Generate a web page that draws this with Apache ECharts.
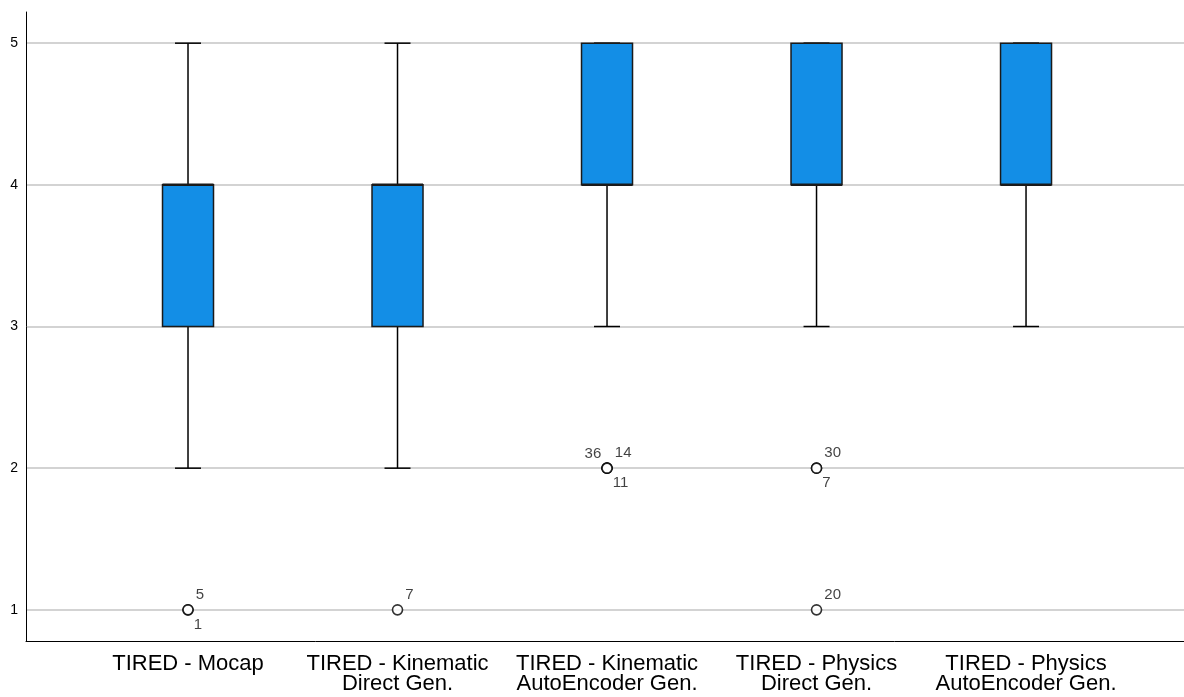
<!DOCTYPE html>
<html>
<head>
<meta charset="utf-8">
<script src="https://cdn.jsdelivr.net/npm/echarts@6/dist/echarts.min.js"></script>
<style>html,body{margin:0;padding:0;background:#fff;}#c{width:1184px;height:697px;}</style>
</head>
<body>
<div id="c"></div>
<script>
const categories = ['TIRED - Mocap', 'TIRED - Kinematic\nDirect Gen.', 'TIRED - Kinematic\nAutoEncoder Gen.', 'TIRED - Physics\nDirect Gen.', 'TIRED - Physics\nAutoEncoder Gen.'];
// [min, Q1, median, Q3, max]
const boxMin    = [2, 2, 3, 3, 3];
const boxQ1     = [3, 3, 4, 4, 4];
const boxMedian = [4, 4, 4, 4, 4];
const boxQ3     = [4, 4, 5, 5, 5];
const boxMax    = [5, 5, 5, 5, 5];
// outliers: category index (0-based), value, case ids
const outlierCat   = [0, 1, 2, 3, 3];
const outlierValue = [1, 1, 2, 2, 1];
const outlierIds   = [['5', '1'], ['7'], ['14', '11', '36'], ['30', '7'], ['20']];
const yTicks = [1, 2, 3, 4, 5];

const chart = echarts.init(document.getElementById('c'), null, {renderer: 'canvas'});

const boxData = categories.map((c, i) => [i + 1, boxMin[i], boxQ1[i], boxMedian[i], boxQ3[i], boxMax[i]]);

const labelSlots = [
  {position: 'right', offset: [-3, -15], align: 'left'},
  {position: 'right', offset: [-5, 15], align: 'left'},
  {position: 'left', offset: [5, -14], align: 'right'}
];
const scatterData = [];
outlierCat.forEach((ci, k) => {
  outlierIds[k].forEach((id, j) => {
    const s = labelSlots[j];
    scatterData.push({
      value: [ci + 1, outlierValue[k]],
      label: {show: true, formatter: id, position: s.position, offset: s.offset, align: s.align,
              color: '#111', fontSize: 15, fontFamily: 'Liberation Sans, Arial, sans-serif'}
    });
  });
});

const boxW = 51, capW = 26;
chart.setOption({
  animation: false,
  backgroundColor: '#fff',
  grid: {left: 26, right: 0, top: 12, bottom: 56, containLabel: false},
  xAxis: {
    type: 'value', min: 0.2267, max: 5.754,
    axisLine: {show: true, lineStyle: {color: '#000', width: 1}},
    axisTick: {show: false},
    splitLine: {show: false},
    axisLabel: {
      customValues: [1, 2, 3, 4, 5],
      formatter: v => categories[Math.round(v) - 1],
      color: '#000', fontSize: 22, lineHeight: 20, margin: 13,
      fontFamily: 'Liberation Sans, Arial, sans-serif', align: 'center'
    }
  },
  yAxis: {
    type: 'value', min: 0.78, max: 5.22,
    axisLine: {show: true, onZero: false, lineStyle: {color: '#000', width: 1}},
    axisTick: {show: false},
    splitLine: {show: false},
    axisLabel: {
      customValues: yTicks,
      color: '#000', fontSize: 14, margin: 8,
      fontFamily: 'Liberation Sans, Arial, sans-serif'
    }
  },
  series: [
    {
      type: 'scatter',
      data: [],
      silent: true,
      markLine: {
        silent: true, symbol: 'none', z: 0,
        label: {show: false},
        lineStyle: {color: '#c4c4c4', width: 1.5, type: 'solid'},
        data: yTicks.map(v => ({yAxis: v}))
      }
    },
    {
      type: 'custom',
      z: 3,
      data: boxData,
      renderItem: function (params, api) {
        const x = api.value(0);
        const pMin = api.coord([x, api.value(1)]);
        const pQ1 = api.coord([x, api.value(2)]);
        const pMed = api.coord([x, api.value(3)]);
        const pQ3 = api.coord([x, api.value(4)]);
        const pMax = api.coord([x, api.value(5)]);
        const cx = pMin[0];
        const ls = {stroke: '#000', lineWidth: 1.5};
        return {
          type: 'group',
          children: [
            {type: 'line', shape: {x1: cx, y1: pQ3[1], x2: cx, y2: pMax[1]}, style: ls},
            {type: 'line', shape: {x1: cx, y1: pQ1[1], x2: cx, y2: pMin[1]}, style: ls},
            {type: 'line', shape: {x1: cx - capW / 2, y1: pMax[1], x2: cx + capW / 2, y2: pMax[1]}, style: ls},
            {type: 'line', shape: {x1: cx - capW / 2, y1: pMin[1], x2: cx + capW / 2, y2: pMin[1]}, style: ls},
            {type: 'rect', shape: {x: cx - boxW / 2, y: pQ3[1], width: boxW, height: pQ1[1] - pQ3[1]},
             style: {fill: '#138ee6', stroke: '#1a1a1a', lineWidth: 1.5}},
            {type: 'line', shape: {x1: cx - boxW / 2, y1: pMed[1], x2: cx + boxW / 2, y2: pMed[1]},
             style: {stroke: '#1a1a1a', lineWidth: 2.5}}
          ]
        };
      }
    },
    {
      type: 'scatter',
      z: 4,
      symbol: 'circle',
      symbolSize: 10,
      itemStyle: {color: '#fff', borderColor: '#000', borderWidth: 1.6},
      data: scatterData
    }
  ]
});
</script>
</body>
</html>
